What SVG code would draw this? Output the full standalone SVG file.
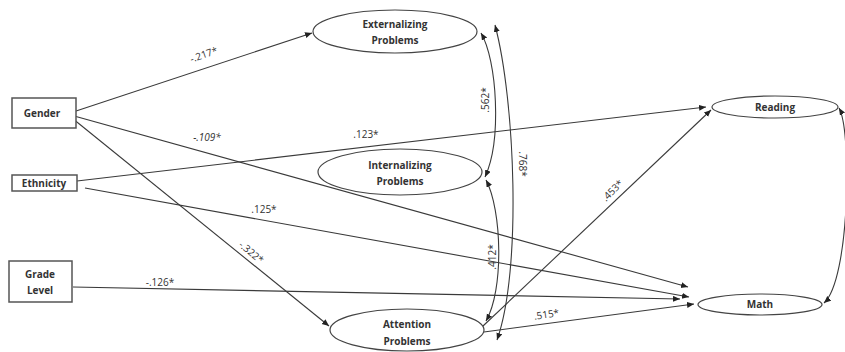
<svg xmlns="http://www.w3.org/2000/svg" width="845" height="352" viewBox="0 0 845 352">
<style>
.box{fill:#fff;stroke:#555;stroke-width:1.5}
.ell{fill:none;stroke:#444;stroke-width:1.2}
.nt{font-family:"Open Sans","Liberation Sans",sans-serif;font-weight:bold;font-size:10px;fill:#333;text-anchor:middle}
.el{font-family:"Open Sans","Liberation Sans",sans-serif;font-size:10px;fill:#333;text-anchor:middle}
.ln{fill:none;stroke:#3a3a3a;stroke-width:1.1;marker-end:url(#ah)}
.cv{fill:none;stroke:#3a3a3a;stroke-width:1.1;marker-start:url(#ah);marker-end:url(#ah)}
</style>
<defs>
<marker id="ah" markerUnits="userSpaceOnUse" markerWidth="8" markerHeight="7" refX="7" refY="3" orient="auto-start-reverse">
<path d="M0,0 L7,3 L0,6 z" fill="#222"/>
</marker>
</defs>
<rect width="845" height="352" fill="#fff"/>
<g id="connectors">
<line class="ln" x1="67" y1="114" x2="312" y2="33"/>
<line class="ln" x1="67" y1="114" x2="688" y2="287"/>
<line class="ln" x1="67" y1="114" x2="329" y2="326"/>
<line class="ln" x1="77" y1="181" x2="706" y2="107"/>
<line class="ln" x1="85" y1="188" x2="689" y2="297"/>
<line class="ln" x1="73" y1="287" x2="680" y2="299"/>
<line class="ln" x1="483" y1="326" x2="711" y2="110"/>
<line class="ln" x1="484" y1="332" x2="694" y2="304"/>
<path class="cv" d="M481,33 C497,60 502,140 485,177"/>
<path class="cv" d="M486,180 C502,210 504,290 486,321"/>
<path class="cv" d="M495,25 C515,100 522,270 497,340"/>
<path class="cv" d="M839,108 C852,130 850,280 824,303"/>
<text class="el" transform="translate(205,58) rotate(-19)">-.217*</text>
<text class="el" x="207" y="141" font-style="italic">-.109*</text>
<text class="el" x="366" y="138">.123*</text>
<text class="el" x="264" y="213">.125*</text>
<text class="el" transform="translate(249,255) rotate(40)">-.322*</text>
<text class="el" x="160" y="286">-.126*</text>
<text class="el" transform="translate(489,100) rotate(-90)">.562*</text>
<text class="el" transform="translate(519,164) rotate(90)">.768*</text>
<text class="el" transform="translate(496,257) rotate(-90)">.412*</text>
<text class="el" transform="translate(615,193) rotate(-45)">.453*</text>
<text class="el" transform="translate(547,318) rotate(-8)">.515*</text>
</g>
<g id="gender"><rect class="box" x="12" y="98" width="64" height="30"/><text class="nt" x="42" y="117">Gender</text></g>
<g id="ethnicity"><rect class="box" x="12" y="175" width="65" height="16"/><text class="nt" x="44" y="187">Ethnicity</text></g>
<g id="grade"><rect class="box" x="9" y="261" width="63" height="41"/><text class="nt" x="40" y="278">Grade</text><text class="nt" x="40" y="294">Level</text></g>
<g id="externalizing"><ellipse class="ell" cx="395" cy="31.5" rx="82" ry="21.5"/><text class="nt" x="395" y="28">Externalizing</text><text class="nt" x="395" y="44">Problems</text></g>
<g id="internalizing"><ellipse class="ell" cx="400" cy="172" rx="82" ry="23"/><text class="nt" x="400" y="169">Internalizing</text><text class="nt" x="400" y="185">Problems</text></g>
<g id="attention"><ellipse class="ell" cx="407" cy="330" rx="77" ry="21"/><text class="nt" x="407" y="328">Attention</text><text class="nt" x="407" y="345">Problems</text></g>
<g id="reading"><ellipse class="ell" cx="775" cy="107" rx="63" ry="11"/><text class="nt" x="775" y="111">Reading</text></g>
<g id="math"><ellipse class="ell" cx="760" cy="304.5" rx="62" ry="10.5"/><text class="nt" x="760" y="308">Math</text></g>
</svg>
